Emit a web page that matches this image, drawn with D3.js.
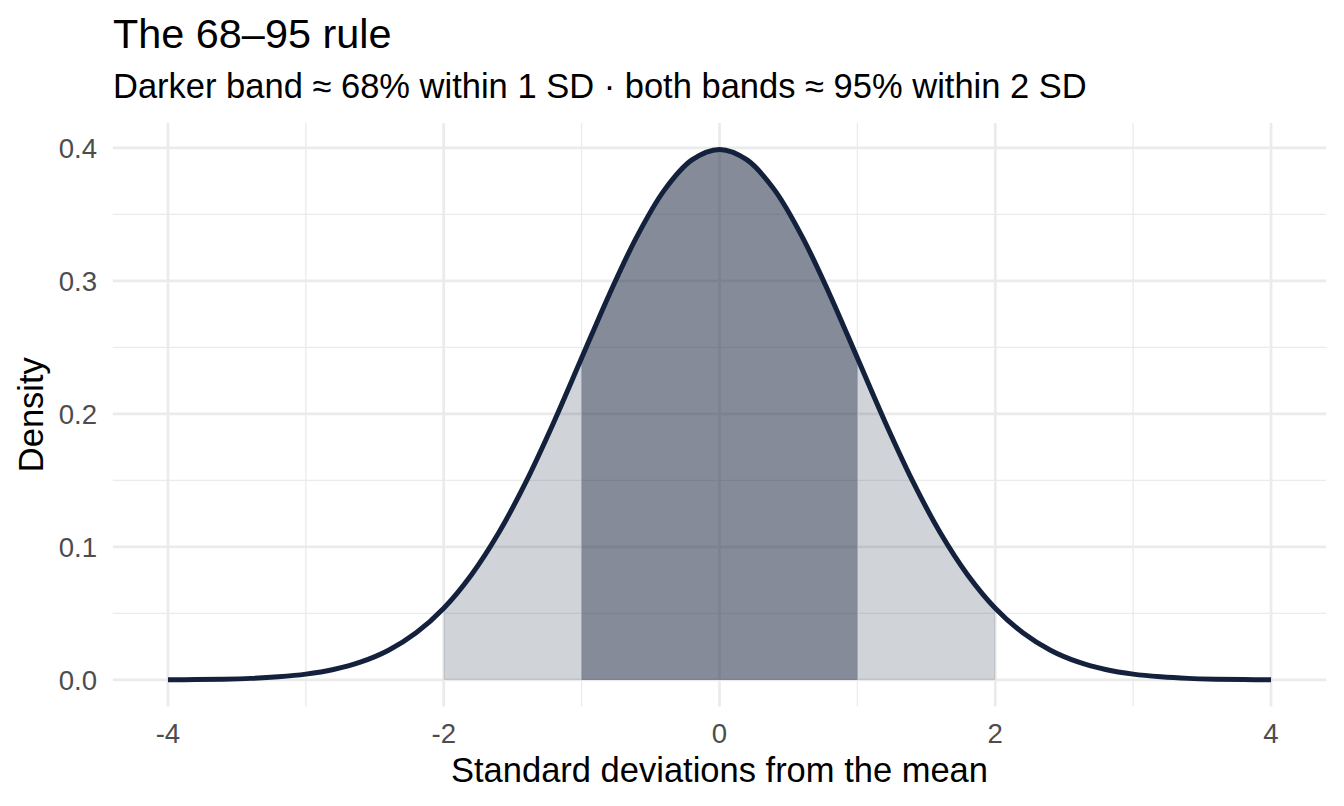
<!DOCTYPE html>
<html>
<head>
<meta charset="utf-8">
<script src="https://cdn.jsdelivr.net/npm/d3@7"></script>
<style>
  html, body { margin: 0; padding: 0; background: #fff; }
  svg { display: block; font-family: "Liberation Sans", Arial, Helvetica, sans-serif; }
</style>
</head>
<body>
<script>
// density of the curve (x in SD units)
const sdValues = [-4, -3.8, -3.6, -3.4, -3.2, -3, -2.8, -2.6, -2.4, -2.2, -2, -1.8, -1.6, -1.4, -1.2, -1, -0.8, -0.6, -0.4, -0.2,
  0, 0.2, 0.4, 0.6, 0.8, 1, 1.2, 1.4, 1.6, 1.8, 2, 2.2, 2.4, 2.6, 2.8, 3, 3.2, 3.4, 3.6, 3.8, 4];
const densityValues = [0.0001, 0.0003, 0.0006, 0.0012, 0.0024, 0.0044, 0.0079, 0.0136, 0.0224, 0.0355, 0.0540, 0.0790, 0.1109, 0.1497, 0.1942, 0.2420, 0.2897, 0.3332, 0.3683, 0.3910,
  0.3989, 0.3910, 0.3683, 0.3332, 0.2897, 0.2420, 0.1942, 0.1497, 0.1109, 0.0790, 0.0540, 0.0355, 0.0224, 0.0136, 0.0079, 0.0044, 0.0024, 0.0012, 0.0006, 0.0003, 0.0001];

// shaded bands: [from, to]
const bandRanges = [[-2, 2], [-1, 1]];
const bandOpacity = [0.2, 0.4];

const xTicks = [-4, -2, 0, 2, 4];
const xMinor = [-3, -1, 1, 3];
const yTicks = [0, 0.1, 0.2, 0.3, 0.4];
const yMinor = [0.05, 0.15, 0.25, 0.35];

const W = 1344, H = 806;
const navy = "#14213D";
const grid = "#EBEBEB";

const data = sdValues.map((x, i) => ({x, y: densityValues[i]}));

// ggplot style 5% expansion
const xr = d3.extent(sdValues), xpad = (xr[1] - xr[0]) * 0.05;
const ymax = d3.max(densityValues), ypad = ymax * 0.05;

const x = d3.scaleLinear().domain([xr[0] - xpad, xr[1] + xpad]).range([112.8, 1326.2]);
const y = d3.scaleLinear().domain([-ypad, ymax + ypad]).range([706.5, 122.9]);

const svg = d3.select("body").append("svg")
    .attr("width", W)
    .attr("height", H);

// grid
const g = svg.append("g");
g.selectAll(".ymin").data(yMinor).join("line")
    .attr("x1", x.range()[0]).attr("x2", x.range()[1])
    .attr("y1", d => y(d)).attr("y2", d => y(d))
    .attr("stroke", grid).attr("stroke-width", 1.3);
g.selectAll(".xmin").data(xMinor).join("line")
    .attr("y1", y.range()[0]).attr("y2", y.range()[1])
    .attr("x1", d => x(d)).attr("x2", d => x(d))
    .attr("stroke", grid).attr("stroke-width", 1.3);
g.selectAll(".ymaj").data(yTicks).join("line")
    .attr("x1", x.range()[0]).attr("x2", x.range()[1])
    .attr("y1", d => y(d)).attr("y2", d => y(d))
    .attr("stroke", grid).attr("stroke-width", 2.7);
g.selectAll(".xmaj").data(xTicks).join("line")
    .attr("y1", y.range()[0]).attr("y2", y.range()[1])
    .attr("x1", d => x(d)).attr("x2", d => x(d))
    .attr("stroke", grid).attr("stroke-width", 2.7);

// bands
const area = d3.area()
    .curve(d3.curveCatmullRom)
    .x(d => x(d.x))
    .y0(y(0))
    .y1(d => y(d.y));

svg.append("g").selectAll("path")
  .data(bandRanges)
  .join("path")
    .attr("d", r => area(data.filter(d => d.x >= r[0] - 1e-9 && d.x <= r[1] + 1e-9)))
    .attr("fill", navy)
    .attr("fill-opacity", (d, i) => bandOpacity[i]);

// curve
const line = d3.line()
    .curve(d3.curveCatmullRom)
    .x(d => x(d.x))
    .y(d => y(d.y));

svg.append("path")
    .datum(data)
    .attr("d", line)
    .attr("fill", "none")
    .attr("stroke", navy)
    .attr("stroke-width", 5)
    .attr("stroke-linejoin", "round");

// tick labels
svg.append("g").selectAll("text")
  .data(xTicks)
  .join("text")
    .attr("x", d => x(d))
    .attr("y", 743)
    .attr("text-anchor", "middle")
    .attr("font-size", 27.6)
    .attr("fill", "#4D4D4D")
    .text(d => d);

svg.append("g").selectAll("text")
  .data(yTicks)
  .join("text")
    .attr("x", 97)
    .attr("y", d => y(d))
    .attr("dy", "0.36em")
    .attr("text-anchor", "end")
    .attr("font-size", 27.6)
    .attr("fill", "#4D4D4D")
    .text(d => d3.format(".1f")(d));

// axis titles
svg.append("text")
    .attr("x", (x.range()[0] + x.range()[1]) / 2)
    .attr("y", 782)
    .attr("text-anchor", "middle")
    .attr("font-size", 34.5)
    .attr("fill", "#000")
    .text("Standard deviations from the mean");

svg.append("text")
    .attr("transform", `translate(43,${(y.range()[0] + y.range()[1]) / 2}) rotate(-90)`)
    .attr("text-anchor", "middle")
    .attr("font-size", 34.5)
    .attr("fill", "#000")
    .text("Density");

// title + subtitle
svg.append("text")
    .attr("x", 113)
    .attr("y", 48)
    .attr("font-size", 41.4)
    .attr("fill", "#000")
    .text("The 68–95 rule");

svg.append("text")
    .attr("x", 113)
    .attr("y", 98)
    .attr("font-size", 34.5)
    .attr("fill", "#000")
    .text("Darker band ≈ 68% within 1 SD · both bands ≈ 95% within 2 SD");
</script>
</body>
</html>
